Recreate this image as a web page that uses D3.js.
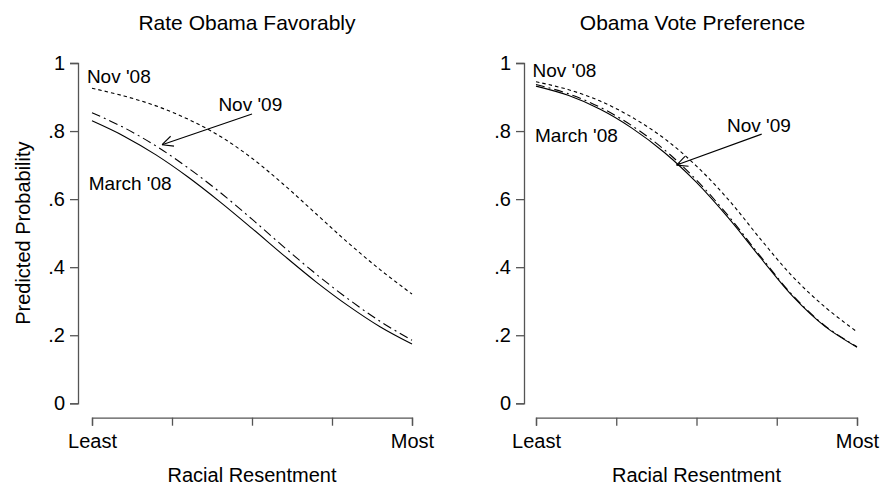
<!DOCTYPE html>
<html>
<head>
<meta charset="utf-8">
<script src="https://cdn.jsdelivr.net/npm/d3@7/dist/d3.min.js"></script>
<style>
  html, body { margin: 0; padding: 0; background: #fff; }
  svg { display: block; }
  text { font-family: "Liberation Sans", Arial, sans-serif; fill: #000; }
</style>
</head>
<body>
<svg id="chart" width="885" height="489"></svg>
<script>
// ---- data ----
const xPositions = [0, 0.1, 0.2, 0.3, 0.4, 0.5, 0.6, 0.7, 0.8, 0.9, 1.0];
const xTickValues = [0, 0.25, 0.5, 0.75, 1];
const xTickLabels = ["Least", "", "", "", "Most"];
const yTickValues = [0, 0.2, 0.4, 0.6, 0.8, 1];
const yTickLabels = ["0", ".2", ".4", ".6", ".8", "1"];
const panelTitles = ["Rate Obama Favorably", "Obama Vote Preference"];
const seriesNames = ["March '08", "Nov '08", "Nov '09"];

// Rate Obama Favorably
const favMarch08 = [0.830, 0.785, 0.730, 0.665, 0.592, 0.514, 0.434, 0.357, 0.287, 0.225, 0.174];
const favNov08   = [0.926, 0.903, 0.874, 0.835, 0.785, 0.720, 0.642, 0.557, 0.472, 0.393, 0.321];
const favNov09   = [0.854, 0.810, 0.756, 0.692, 0.620, 0.541, 0.459, 0.380, 0.307, 0.241, 0.185];

// Obama Vote Preference
const voteMarch08 = [0.932, 0.905, 0.864, 0.808, 0.737, 0.649, 0.544, 0.427, 0.314, 0.226, 0.165];
const voteNov08   = [0.945, 0.922, 0.888, 0.840, 0.778, 0.697, 0.598, 0.482, 0.372, 0.283, 0.210];
const voteNov09   = [0.937, 0.910, 0.870, 0.815, 0.745, 0.656, 0.550, 0.431, 0.317, 0.228, 0.166];

// ---- layout ----
const svg = d3.select("#chart");
const fontSize = 20;
const axisColor = "#555";

const panels = [
  { title: panelTitles[0], xRange: [92, 412], yAxisX: 78,
    series: [favMarch08, favNov08, favNov09],
    labels: [
      { text: seriesNames[1], x: -0.016, y: 0.94 },
      { text: seriesNames[2], x: 0.395, y: 0.86 },
      { text: seriesNames[0], x: -0.01, y: 0.627 }
    ],
    arrow: { from: [0.5, 0.85], to: [0.219, 0.76] },
    showYLabel: true },
  { title: panelTitles[1], xRange: [536, 857], yAxisX: 524,
    series: [voteMarch08, voteNov08, voteNov09],
    labels: [
      { text: seriesNames[1], x: -0.011, y: 0.959 },
      { text: seriesNames[2], x: 0.595, y: 0.798 },
      { text: seriesNames[0], x: -0.003, y: 0.768 }
    ],
    arrow: { from: [0.703, 0.791], to: [0.438, 0.70] },
    showYLabel: false }
];

const y = d3.scaleLinear().domain([0, 1]).range([403.3, 63]);
const dashes = [null, "3.5,3", "9,4,2,4"];

panels.forEach(p => {
  const x = d3.scaleLinear().domain([0, 1]).range(p.xRange);
  const g = svg.append("g");

  // title
  g.append("text")
    .attr("x", (p.yAxisX + p.xRange[1]) / 2 + 2)
    .attr("y", 30)
    .attr("text-anchor", "middle")
    .style("font-size", "21px")
    .text(p.title);

  // y axis
  const yAxis = d3.axisLeft(y).tickValues(yTickValues)
    .tickFormat((d, i) => yTickLabels[i]).tickSize(8).tickPadding(5);
  const ya = g.append("g").attr("transform", `translate(${p.yAxisX},0)`).call(yAxis);
  ya.select(".domain").attr("stroke", axisColor).attr("stroke-width", 1.3);
  ya.selectAll(".tick line").attr("stroke", axisColor).attr("stroke-width", 1.3);
  ya.selectAll(".tick text").style("font-size", fontSize + "px")
    .style("font-family", "'Liberation Sans', Arial, sans-serif").attr("fill", "#000");

  // x axis
  const xAxis = d3.axisBottom(x).tickValues(xTickValues)
    .tickFormat((d, i) => xTickLabels[i]).tickSize(8).tickPadding(8);
  const xa = g.append("g").attr("transform", `translate(0,417.7)`).call(xAxis);
  xa.select(".domain").attr("stroke", axisColor).attr("stroke-width", 1.3);
  xa.selectAll(".tick line").attr("stroke", axisColor).attr("stroke-width", 1.3);
  xa.selectAll(".tick text").style("font-size", fontSize + "px")
    .style("font-family", "'Liberation Sans', Arial, sans-serif").attr("fill", "#000");

  // x axis title
  g.append("text")
    .attr("x", (p.xRange[0] + p.xRange[1]) / 2)
    .attr("y", 482)
    .attr("text-anchor", "middle")
    .style("font-size", fontSize + "px")
    .text("Racial Resentment");

  if (p.showYLabel) {
    g.append("text")
      .attr("transform", `translate(30,${(403.3 + 63) / 2}) rotate(-90)`)
      .attr("text-anchor", "middle")
      .style("font-size", fontSize + "px")
      .text("Predicted Probability");
  }

  // lines
  const line = d3.line()
    .x((d, i) => x(xPositions[i]))
    .y(d => y(d))
    .curve(d3.curveCatmullRom);
  p.series.forEach((s, k) => {
    g.append("path")
      .datum(s)
      .attr("d", line)
      .attr("fill", "none")
      .attr("stroke", "#000")
      .attr("stroke-width", 1.1)
      .attr("stroke-dasharray", dashes[k]);
  });

  // labels
  p.labels.forEach(l => {
    g.append("text")
      .attr("x", x(l.x))
      .attr("y", y(l.y))
      .style("font-size", "19px")
      .text(l.text);
  });

  // arrow
  const x1 = x(p.arrow.from[0]), y1 = y(p.arrow.from[1]);
  const x2 = x(p.arrow.to[0]), y2 = y(p.arrow.to[1]);
  g.append("line").attr("x1", x1).attr("y1", y1).attr("x2", x2).attr("y2", y2)
    .attr("stroke", "#000").attr("stroke-width", 1.1);
  const ang = Math.atan2(y1 - y2, x1 - x2);
  const hl = 12, ha = 0.45;
  [ang + ha, ang - ha].forEach(a => {
    g.append("line")
      .attr("x1", x2).attr("y1", y2)
      .attr("x2", x2 + hl * Math.cos(a)).attr("y2", y2 + hl * Math.sin(a))
      .attr("stroke", "#000").attr("stroke-width", 1.1);
  });
});
</script>
</body>
</html>
